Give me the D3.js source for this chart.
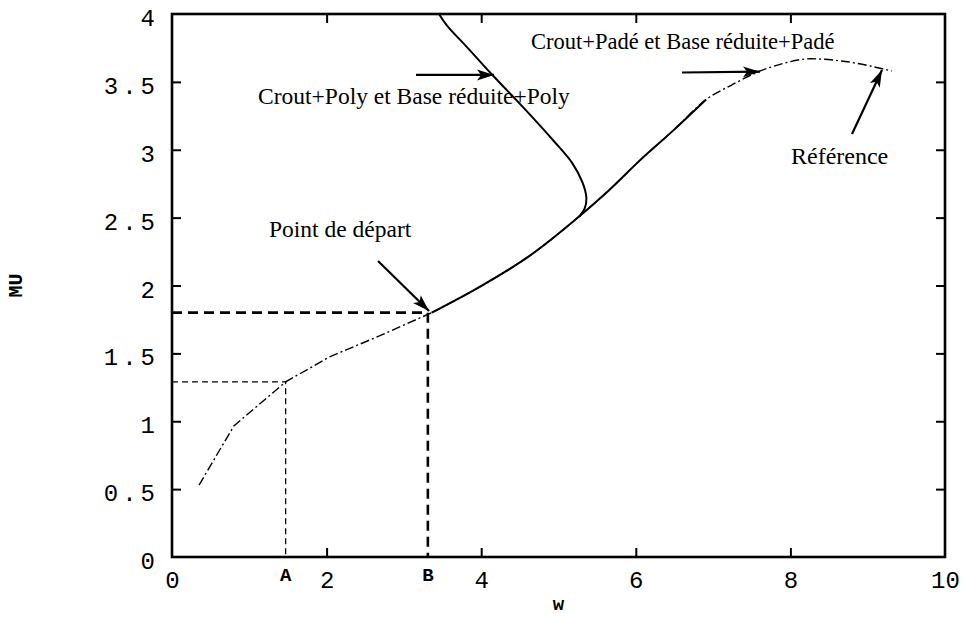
<!DOCTYPE html>
<html>
<head>
<meta charset="utf-8">
<script src="https://cdn.jsdelivr.net/npm/d3@7"></script>
<style>
  html, body { margin: 0; padding: 0; background: #fff; }
  svg { display: block; }
</style>
</head>
<body>
<svg id="chart" width="967" height="617"></svg>
<script>
// ---------------- data ----------------
const xTicks = [0, 2, 4, 6, 8, 10];
const yTicks = [0, 0.5, 1, 1.5, 2, 2.5, 3, 3.5, 4];
const yTickLabels = ["0", "0.5", "1", "1.5", "2", "2.5", "3", "3.5", "4"];

// Reference curve (dash-dot)
const refW  = [0.35, 0.80, 1.47, 2.04, 2.69, 3.36, 3.98, 4.63, 5.27, 5.65, 6.05, 6.50, 6.91, 7.25, 7.57, 7.90, 8.26, 8.71, 9.31];
const refMU = [0.53, 0.965, 1.29, 1.475, 1.63, 1.80, 1.99, 2.22, 2.51, 2.70, 2.92, 3.15, 3.37, 3.48, 3.57, 3.635, 3.67, 3.65, 3.58];
const refKinkEnd = 5; // index of the starting point B: piecewise-straight before it

// Crout+Padé / Base réduite+Padé (solid, overlaps reference)
const padeW  = [3.36, 3.98, 4.63, 5.27, 5.65, 6.05, 6.50, 6.91];
const padeMU = [1.80, 1.99, 2.22, 2.51, 2.70, 2.92, 3.15, 3.37];

// Crout+Poly / Base réduite+Poly (solid)
const polyW  = [3.40, 3.55, 3.81, 4.13, 4.58, 4.93, 5.18, 5.31, 5.36, 5.34, 5.27];
const polyMU = [4.05, 3.92, 3.76, 3.56, 3.29, 3.07, 2.90, 2.76, 2.65, 2.57, 2.51];

// Marked points A and B
const pointNames = ["A", "B"];
const pointW  = [1.47, 3.31];
const pointMU = [1.29, 1.80];

// Annotations (data units)
const labelTexts = ["Point de départ", "Crout+Poly et Base réduite+Poly", "Crout+Padé et Base réduite+Padé", "Référence"];
const labelW  = [1.255, 1.113, 4.644, 8.008];
const labelMU = [2.357, 3.335, 3.740, 2.895];
const labelSize = [23.5, 23.5, 22.5, 24];
const arrowTailW  = [2.665, 3.157, 6.598, 8.797];
const arrowTailMU = [2.180, 3.551, 3.569, 3.116];
const arrowTipW   = [3.325, 4.166, 7.607, 9.185];
const arrowTipMU  = [1.812, 3.551, 3.575, 3.587];

// ---------------- layout ----------------
const svg = d3.select("#chart");
const mLeft = 172, mRight = 945, mTop = 14, mBottom = 557;
const x = d3.scaleLinear().domain([0, 10]).range([mLeft, mRight]);
const y = d3.scaleLinear().domain([0, 4]).range([mBottom, mTop]);

const monoFont = "'Liberation Mono', 'DejaVu Sans Mono', monospace";
const serifFont = "'Liberation Serif', 'Times New Roman', serif";

const defs = svg.append("defs");
defs.append("clipPath").attr("id", "plotclip")
  .append("rect").attr("x", mLeft).attr("y", mTop).attr("width", mRight - mLeft).attr("height", mBottom - mTop);
defs.append("marker")
  .attr("id", "arrow").attr("markerUnits", "userSpaceOnUse")
  .attr("markerWidth", 20).attr("markerHeight", 12)
  .attr("refX", 17).attr("refY", 5.5).attr("orient", "auto")
  .append("path").attr("d", "M0,0 L17,5.5 L0,11 L4,5.5 Z").attr("fill", "#000");

// ---------------- axes ----------------
const gx = svg.append("g").attr("transform", `translate(0,${mBottom})`)
  .call(d3.axisBottom(x).tickValues(xTicks).tickSize(-9).tickPadding(14).tickFormat(d3.format("d")));
const gxTop = svg.append("g").attr("transform", `translate(0,${mTop})`)
  .call(d3.axisTop(x).tickValues(xTicks.slice(1, -1)).tickSize(-9).tickFormat(""));
const gy = svg.append("g").attr("transform", `translate(${mLeft},0)`)
  .call(d3.axisLeft(y).tickValues(yTicks).tickSize(-9).tickPadding(13).tickFormat((d, i) => yTickLabels[i]));
const gyR = svg.append("g").attr("transform", `translate(${mRight},0)`)
  .call(d3.axisRight(y).tickValues(yTicks.slice(1, -1)).tickSize(-9).tickFormat(""));

[gx, gxTop, gy, gyR].forEach(g => {
  g.select(".domain").remove();
  g.selectAll(".tick line").attr("stroke", "#000").attr("stroke-width", 2);
  g.selectAll(".tick text").attr("fill", "#000").attr("font-family", monoFont).attr("font-size", 24);
});
gx.selectAll(".tick line").filter(d => d === 0 || d === 10).remove();
gy.selectAll(".tick line").filter(d => d === 0 || d === 4).remove();
gy.selectAll(".tick text").attr("letter-spacing", 4).attr("dy", "0.48em");

// frame
svg.append("rect").attr("x", mLeft).attr("y", mTop).attr("width", mRight - mLeft).attr("height", mBottom - mTop)
  .attr("fill", "none").attr("stroke", "#000").attr("stroke-width", 2.6);

// axis titles
svg.append("text").attr("x", (mLeft + mRight) / 2).attr("y", 610).attr("text-anchor", "middle")
  .attr("font-family", monoFont).attr("font-weight", "bold").attr("font-size", 19).text("w");
svg.append("text").attr("transform", `translate(22,${(mTop + mBottom) / 2}) rotate(-90)`).attr("text-anchor", "middle")
  .attr("font-family", monoFont).attr("font-weight", "bold").attr("font-size", 20).text("MU");

// ---------------- marks ----------------
const plot = svg.append("g").attr("clip-path", "url(#plotclip)");

// guide lines for A (thin dashed) and B (thick dashed)
const guideWidth = [1.3, 2.6];
const guideDash = ["6,4", "10,6"];
pointW.forEach((w, i) => {
  plot.append("path")
    .attr("d", d3.line()([[x(0), y(pointMU[i])], [x(w), y(pointMU[i])], [x(w), y(0)]]))
    .attr("fill", "none").attr("stroke", "#000")
    .attr("stroke-width", guideWidth[i]).attr("stroke-dasharray", guideDash[i]);
});

const refData = refW.map((w, i) => [w, refMU[i]]);
const padeData = padeW.map((w, i) => [w, padeMU[i]]);
const polyData = polyW.map((w, i) => [w, polyMU[i]]);

const lineLin = d3.line().x(d => x(d[0])).y(d => y(d[1]));
const lineMono = d3.line().x(d => x(d[0])).y(d => y(d[1])).curve(d3.curveMonotoneX);
const lineCR = d3.line().x(d => x(d[0])).y(d => y(d[1])).curve(d3.curveCatmullRom.alpha(0.5));

plot.append("path").datum(padeData).attr("d", lineMono)
  .attr("fill", "none").attr("stroke", "#000").attr("stroke-width", 2);
plot.append("path").datum(refData.slice(0, refKinkEnd + 1)).attr("d", lineLin)
  .attr("fill", "none").attr("stroke", "#000").attr("stroke-width", 1.4)
  .attr("stroke-dasharray", "9,3,2,3");
plot.append("path").datum(refData.slice(refKinkEnd)).attr("d", lineMono)
  .attr("fill", "none").attr("stroke", "#000").attr("stroke-width", 1.4)
  .attr("stroke-dasharray", "9,3,2,3");
plot.append("path").datum(polyData).attr("d", lineCR)
  .attr("fill", "none").attr("stroke", "#000").attr("stroke-width", 2);

// A / B labels
pointNames.forEach((n, i) => {
  svg.append("text").attr("x", x(pointW[i])).attr("y", 581).attr("text-anchor", "middle")
    .attr("font-family", monoFont).attr("font-weight", "bold").attr("font-size", 19).text(n);
});

// annotations
labelTexts.forEach((t, i) => {
  svg.append("text").attr("x", x(labelW[i])).attr("y", y(labelMU[i]))
    .attr("font-family", serifFont).attr("font-size", labelSize[i]).attr("fill", "#000").text(t);
  svg.append("line")
    .attr("x1", x(arrowTailW[i])).attr("y1", y(arrowTailMU[i]))
    .attr("x2", x(arrowTipW[i])).attr("y2", y(arrowTipMU[i]))
    .attr("stroke", "#000").attr("stroke-width", 2.2).attr("marker-end", "url(#arrow)");
});
</script>
</body>
</html>
